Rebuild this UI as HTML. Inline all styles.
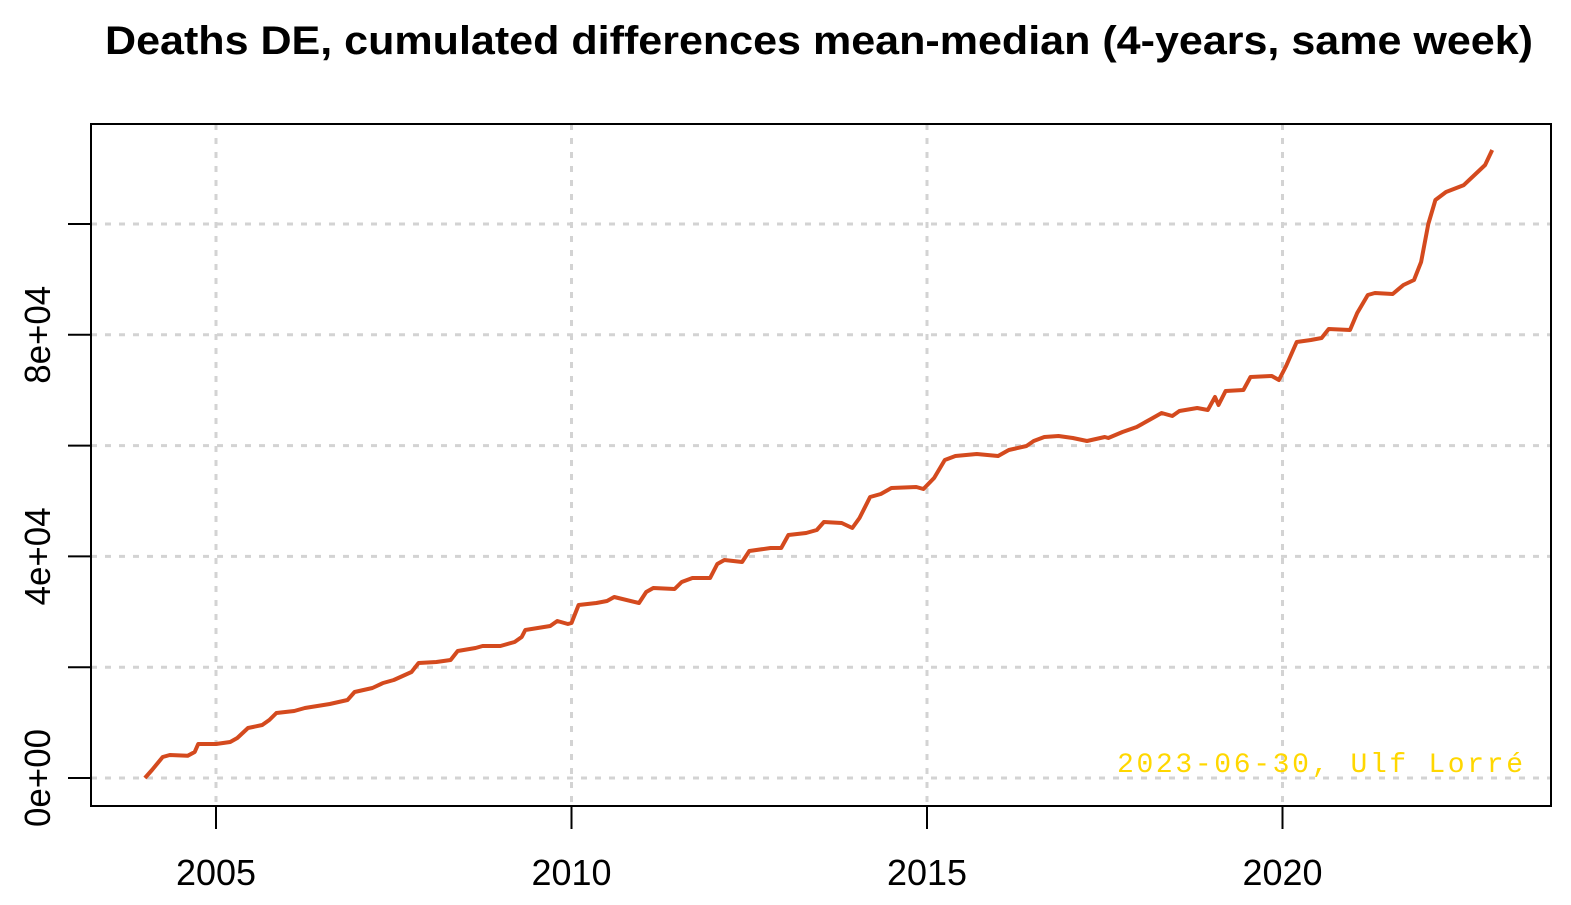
<!DOCTYPE html>
<html><head><meta charset="utf-8"><style>
html,body{margin:0;padding:0;background:#fff;}
svg{display:block;font-family:"Liberation Sans",sans-serif;}
</style></head><body>
<svg id="chart" width="1571" height="905" viewBox="0 0 1571 905" xmlns="http://www.w3.org/2000/svg">
<text x="105" y="54" font-size="40" font-weight="bold" textLength="1428" lengthAdjust="spacingAndGlyphs">Deaths DE, cumulated differences mean-median (4-years, same week)</text>
<g id="grid"></g>
<g id="axes"></g>
<text x="1117" y="772" font-family="Liberation Mono, monospace" font-size="28" fill="#FFD700" textLength="406">2023-06-30, Ulf Lorré</text>
<path id="line" fill="none" stroke="#D44A1E" stroke-width="4" stroke-linejoin="round"></path>
<rect x="91" y="124" width="1460" height="682" fill="none" stroke="#000" stroke-width="2"></rect>
</svg>
<script>
const years=[2004.0,2004.1,2004.25,2004.35,2004.6,2004.7,2004.75,2005.0,2005.2,2005.3,2005.45,2005.65,2005.75,2005.85,2006.1,2006.25,2006.6,2006.85,2006.95,2007.2,2007.35,2007.5,2007.75,2007.85,2008.1,2008.3,2008.4,2008.65,2008.75,2009.0,2009.2,2009.3,2009.35,2009.7,2009.8,2009.95,2010.0,2010.1,2010.35,2010.5,2010.6,2010.95,2011.05,2011.15,2011.45,2011.55,2011.7,2011.95,2012.05,2012.15,2012.4,2012.5,2012.8,2012.95,2013.05,2013.3,2013.45,2013.55,2013.8,2013.95,2014.05,2014.2,2014.35,2014.5,2014.85,2014.95,2015.1,2015.25,2015.4,2015.7,2015.85,2016.0,2016.15,2016.4,2016.5,2016.65,2016.85,2017.05,2017.25,2017.5,2017.55,2017.75,2017.95,2018.15,2018.3,2018.45,2018.55,2018.8,2018.95,2019.05,2019.1,2019.2,2019.45,2019.55,2019.85,2019.95,2020.05,2020.2,2020.4,2020.55,2020.65,2020.95,2021.05,2021.2,2021.3,2021.55,2021.7,2021.85,2021.95,2022.05,2022.15,2022.3,2022.55,2022.7,2022.85,2022.95];
const values=[0,1440,3790,4150,4000,4690,6140,6140,6500,7220,9025,9570,10470,11730,12090,12635,13360,14080,15520,16250,17150,17690,19130,20760,20940,21300,22920,23470,23830,23830,24550,25450,26710,27440,28340,27800,27980,31230,31590,31950,32670,31590,33570,34300,34120,35380,36100,36100,38630,39350,38990,40970,41510,41510,43860,44220,44760,46210,46030,45130,46930,50720,51260,52345,52520,52160,54150,57400,58120,58480,58300,58120,59200,59930,60830,61550,61730,61370,60830,61550,61370,62450,63350,64800,65880,65340,66240,66780,66420,68770,67330,69850,70030,72380,72560,71840,74370,78700,79060,79420,81050,80870,83940,87180,87540,87360,88990,89890,93140,100000,104330,105770,107030,108840,110650,113350];
const xTicks=[2005,2010,2015,2020];
const yTicks=[0,20000,40000,60000,80000,100000];
const yLabels=[[0,"0e+00"],[40000,"4e+04"],[80000,"8e+04"]];
const NS="http://www.w3.org/2000/svg";
function X(y){return 216+(y-2005)*71.1;}
function Y(v){return 778-v/20000*110.8;}
function mk(t,a,p){const e=document.createElementNS(NS,t);for(const k in a)e.setAttribute(k,a[k]);p.appendChild(e);return e;}
const grid=document.getElementById('grid'),axes=document.getElementById('axes');
xTicks.forEach(t=>{
 const g=mk('line',{x1:X(t),x2:X(t),y1:124,y2:806,stroke:'#d3d3d3','stroke-width':3,'stroke-dasharray':'6 8'},grid);
 
 
 const tk=mk('line',{x1:X(t),x2:X(t),y1:806,y2:829,stroke:'#000','stroke-width':2},axes);
 
 
 const lb=mk('text',{x:X(t)-40,y:885,'font-size':36,textLength:80,lengthAdjust:'spacingAndGlyphs'},axes);
 
 
 lb.textContent=t;
});
yTicks.forEach(v=>{
 const g=mk('line',{x1:91,x2:1551,y1:Y(v),y2:Y(v),stroke:'#d3d3d3','stroke-width':3,'stroke-dasharray':'6 8'},grid);
 
 
 const tk=mk('line',{x1:68,x2:91,y1:Y(v),y2:Y(v),stroke:'#000','stroke-width':2},axes);
 
 
});
yLabels.forEach(([v,s])=>{
 const lb=mk('text',{x:-49,y:0,'font-size':36,textLength:98,lengthAdjust:'spacingAndGlyphs',transform:`translate(50,${Y(v)}) rotate(-90)`},axes);
 
 
 lb.textContent=s;
});
document.getElementById('line').setAttribute('d',years.map((y,i)=>(i?'L':'M')+X(y).toFixed(1)+','+Y(values[i]).toFixed(1)).join(''));
</script>
</body></html>
